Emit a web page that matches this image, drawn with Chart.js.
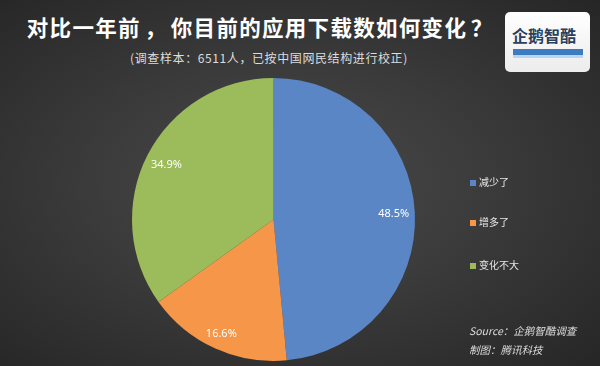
<!DOCTYPE html>
<html>
<head>
<meta charset="utf-8">
<script src="https://cdn.jsdelivr.net/npm/chart.js@4/dist/chart.umd.min.js"></script>
<style>
  html, body { margin: 0; padding: 0; }
  body {
    width: 600px; height: 366px; overflow: hidden; position: relative;
    background: radial-gradient(ellipse at 48% 50%, #4a4a4a 0%, #3b3b3b 45%, #262626 100%);
    font-family: "Noto Sans CJK SC", "Noto Sans", sans-serif;
  }
  #wrap { position: absolute; left: 0; top: 0; width: 600px; height: 366px; }
  .title { position: absolute; left: 0; width: 524px; top: 11px; text-align: center; color: #fff; font-size: 21.5px; font-weight: bold; letter-spacing: 1.3px; }
  .title .p { display: inline-block; width: 30px; text-align: center; }
  .sub { position: absolute; left: 0; width: 538px; top: 49px; text-align: center; color: #ddd; font-size: 12px; letter-spacing: 0.6px; }
  .logo { position: absolute; left: 505px; top: 12px; width: 85px; height: 60px; background: linear-gradient(#ffffff, #ececec); border-radius: 5px; }
  .logo .name { position: absolute; left: 7px; top: 11px; font-size: 16px; font-weight: bold; color: #2b3f5e; letter-spacing: 0px; }
  .logo .bar { position: absolute; left: 8px; top: 37px; width: 70px; height: 6px; background: #3d7cc0; }
  .logo .bar2 { position: absolute; left: 8px; top: 43px; width: 70px; height: 3px; background: #b9d6f0; }
  #legend { position: absolute; left: 470px; top: 174px; }
  .item { position: absolute; left: 0; white-space: nowrap; color: #e6e6e6; font-size: 10px; }
  .item span { display: inline-block; width: 6px; height: 6px; margin-right: 3px; vertical-align: 0px; }
  .src { position: absolute; left: 469px; color: #ddd; font-size: 10.5px; font-style: italic; }
</style>
</head>
<body>
<div class="title">对比一年前<span class="p">，</span>你目前的应用下载数如何变化<span class="p">？</span></div>
<div class="sub">(调查样本：6511人，已按中国网民结构进行校正)</div>
<div class="logo"><div class="name">企鹅智酷</div><div class="bar"></div><div class="bar2"></div></div>
<div id="wrap"><canvas id="c" width="600" height="366"></canvas></div>
<div id="legend"></div>
<div class="src" style="top:323px;">Source：企鹅智酷调查</div>
<div class="src" style="top:342px;">制图：腾讯科技</div>
<script>
const categories = ['减少了', '增多了', '变化不大'];
const values = [48.5, 16.6, 34.9];
const colors = ['#5a86c6', '#f59648', '#9cbb5a'];
const legendTops = [0, 40, 83];

// legend
const legend = document.getElementById('legend');
categories.forEach((name, i) => {
  const d = document.createElement('div');
  d.className = 'item';
  d.style.top = legendTops[i] + 'px';
  d.innerHTML = '<span style="background:' + colors[i] + '"></span>' + name;
  legend.appendChild(d);
});

// percent labels inside slices
const sliceLabels = {
  id: 'sliceLabels',
  afterDatasetsDraw(chart) {
    const ctx = chart.ctx;
    const meta = chart.getDatasetMeta(0);
    ctx.save();
    ctx.fillStyle = '#ffffff';
    ctx.font = '11px "Noto Sans", sans-serif';
    ctx.textAlign = 'center';
    ctx.textBaseline = 'middle';
    meta.data.forEach((arc, i) => {
      const mid = (arc.startAngle + arc.endAngle) / 2;
      const r = arc.outerRadius * (i === 1 ? 0.89 : 0.85);
      ctx.fillText(values[i].toFixed(1) + '%', arc.x + Math.cos(mid) * r, arc.y + Math.sin(mid) * r);
    });
    ctx.restore();
  }
};

new Chart(document.getElementById('c'), {
  type: 'pie',
  data: {
    labels: categories,
    datasets: [{
      data: values,
      backgroundColor: colors,
      borderWidth: 0
    }]
  },
  options: {
    responsive: false,
    animation: false,
    layout: { padding: { left: 132, right: 185, top: 78, bottom: 5 } },
    plugins: { legend: { display: false }, tooltip: { enabled: false } }
  },
  plugins: [sliceLabels]
});
</script>
</body>
</html>
